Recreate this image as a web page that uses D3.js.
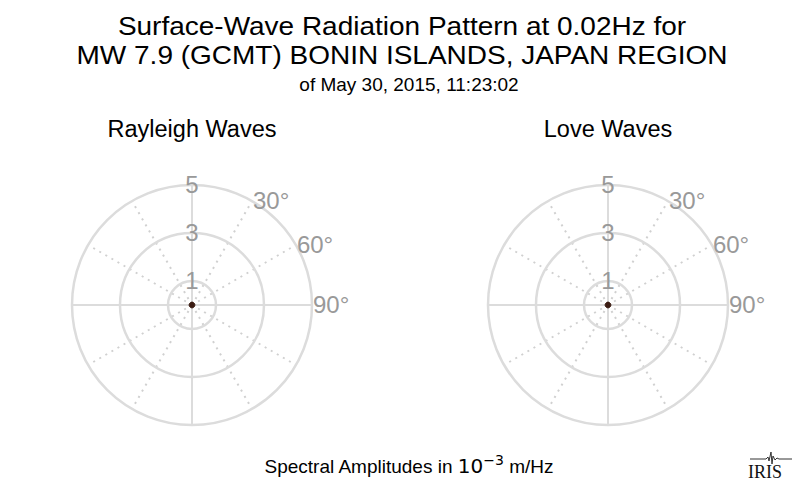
<!DOCTYPE html>
<html>
<head>
<meta charset="utf-8">
<script src="https://cdn.jsdelivr.net/npm/d3@7"></script>
<style>
  body { margin: 0; background: #fff; }
  text { font-family: "Liberation Sans", Arial, sans-serif; }
</style>
</head>
<body>
<div id="chart"></div>
<script>
// chart text
const titleLines = ["Surface-Wave Radiation Pattern at 0.02Hz for",
                    "MW 7.9 (GCMT) BONIN ISLANDS, JAPAN REGION"]
const subTitle = "of May 30, 2015, 11:23:02"
const panels = ["Rayleigh Waves", "Love Waves"]

// radial ticks and angular ticks
const radialTicks = [1, 3, 5]
const angleLabels = [30, 60, 90]
const spokeAngles = d3.range(0, 360, 30)

// radiation pattern (azimuth deg, amplitude in 1e-3 m/Hz) - basically a dot at the center
const azimuths = [0, 30, 60, 90, 120, 150, 180, 210, 240, 270, 300, 330, 360]
const rayleighAmp = [0.12, 0.12, 0.12, 0.12, 0.12, 0.12, 0.12, 0.12, 0.12, 0.12, 0.12, 0.12, 0.12]
const loveAmp = [0.12, 0.12, 0.12, 0.12, 0.12, 0.12, 0.12, 0.12, 0.12, 0.12, 0.12, 0.12, 0.12]

const width = 800
const height = 496

const svg = d3.select("#chart")
    .append("svg")
    .attr("width", width)
    .attr("height", height)

// title lines (slightly stretched so the two lines don't collide)
svg.selectAll("text.title")
    .data(titleLines)
    .enter()
    .append("text")
    .attr("class", "title")
    .attr("transform", (d, i) => `translate(402,${34.5 + i * 29.5}) scale(1.056,1)`)
    .attr("text-anchor", "middle")
    .style("font-size", "26.5px")
    .style("fill", "#000")
    .text(d => d)

svg.append("text")
    .attr("x", 409)
    .attr("y", 91)
    .attr("text-anchor", "middle")
    .style("font-size", "19px")
    .text(subTitle)

const r = d3.scaleLinear().domain([0, 5]).range([0, 120])
const centers = [192, 608]
const series = [rayleighAmp, loveAmp]

panels.forEach((name, k) => {
    const g = svg.append("g")
        .attr("transform", `translate(${centers[k]},305)`)

    svg.append("text")
        .attr("x", centers[k])
        .attr("y", 137)
        .attr("text-anchor", "middle")
        .style("font-size", "23.5px")
        .text(name)

    // dotted spokes
    g.selectAll("line.spoke")
        .data(spokeAngles.filter(a => a % 90 !== 0))
        .enter()
        .append("line")
        .attr("class", "spoke")
        .attr("x1", 0).attr("y1", 0)
        .attr("x2", a => r(5) * Math.sin(a * Math.PI / 180))
        .attr("y2", a => -r(5) * Math.cos(a * Math.PI / 180))
        .style("stroke", "#d0d0d0")
        .style("stroke-width", 2)
        .style("stroke-dasharray", "2,5")

    // solid axes
    g.selectAll("line.axis")
        .data([0, 90])
        .enter()
        .append("line")
        .attr("class", "axis")
        .attr("x1", a => -r(5) * Math.sin(a * Math.PI / 180))
        .attr("y1", a => r(5) * Math.cos(a * Math.PI / 180))
        .attr("x2", a => r(5) * Math.sin(a * Math.PI / 180))
        .attr("y2", a => -r(5) * Math.cos(a * Math.PI / 180))
        .style("stroke", "#dcdcdc")
        .style("stroke-width", 2)

    // rings
    g.selectAll("circle.ring")
        .data(radialTicks)
        .enter()
        .append("circle")
        .attr("class", "ring")
        .attr("r", d => r(d))
        .style("fill", "none")
        .style("stroke", "#dcdcdc")
        .style("stroke-width", 2.5)

    // radial labels
    g.selectAll("text.rlab")
        .data(radialTicks)
        .enter()
        .append("text")
        .attr("class", "rlab")
        .attr("x", 0)
        .attr("y", d => -r(d))
        .attr("dy", "0.33em")
        .attr("text-anchor", "middle")
        .style("font-size", "24px")
        .style("fill", "#999")
        .text(d => d)

    // angle labels
    g.selectAll("text.alab")
        .data(angleLabels)
        .enter()
        .append("text")
        .attr("class", "alab")
        .attr("x", a => r(5) * Math.sin(a * Math.PI / 180) + 1)
        .attr("y", a => -r(5) * Math.cos(a * Math.PI / 180))
        .attr("dy", "0.35em")
        .style("font-size", "24px")
        .style("fill", "#999")
        .text(a => a + "°")

    // radiation pattern
    const line = d3.lineRadial()
        .angle((d, i) => azimuths[i] * Math.PI / 180)
        .radius(d => r(d))
        .curve(d3.curveCardinalClosed)

    g.append("path")
        .datum(series[k].slice(0, -1))
        .attr("d", line)
        .style("fill", "#3b1c12")
        .style("stroke", "#3b1c12")
        .style("stroke-width", 1)
})

// bottom label
const unit = svg.append("text")
    .attr("x", 409)
    .attr("y", 473)
    .attr("text-anchor", "middle")
    .style("font-size", "19px")
unit.append("tspan").text("Spectral Amplitudes in ")
unit.append("tspan").style("font-family", "DejaVu Sans").style("font-size", "20px").text("10")
unit.append("tspan").attr("dy", -8).style("font-family", "DejaVu Sans").style("font-size", "14px").text("\u22123")
unit.append("tspan").attr("dy", 8).text(" m/Hz")

// IRIS logo
const logo = svg.append("g")
const seis = [[750, 459], [766, 459], [768, 457], [769, 461], [771, 452], [772, 464], [773, 456], [775, 460], [777, 458], [779, 459], [792, 459]]
logo.append("path")
    .attr("d", d3.line()(seis))
    .style("fill", "none")
    .style("stroke", "#333")
    .style("stroke-width", 1)
logo.append("text")
    .attr("x", 765)
    .attr("y", 478)
    .attr("text-anchor", "middle")
    .style("font-family", "Liberation Serif, serif")
    .style("font-size", "18px")
    .style("fill", "#111")
    .text("IRIS")
</script>
</body>
</html>
